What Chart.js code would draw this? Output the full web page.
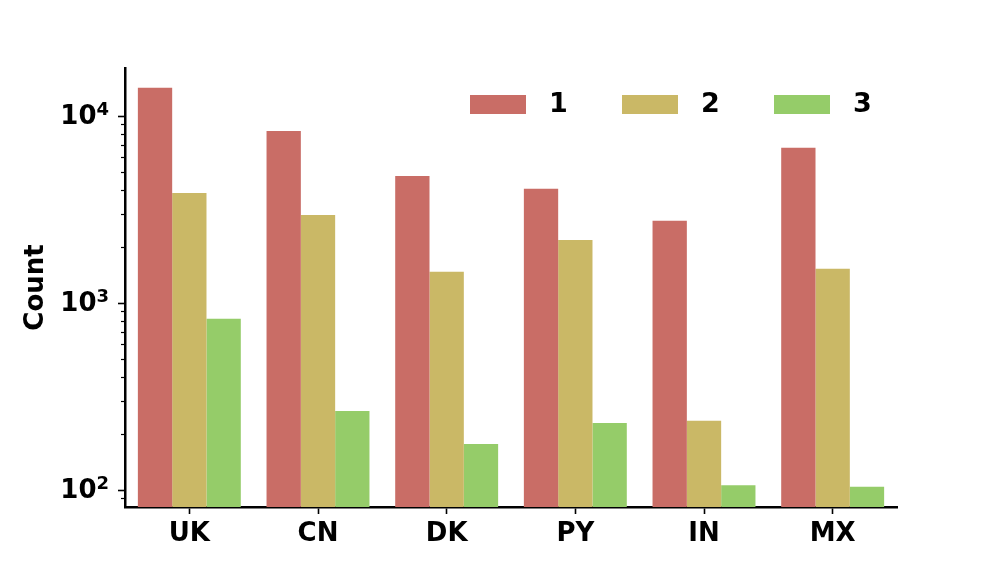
<!DOCTYPE html>
<html>
<head>
<meta charset="utf-8">
<script src="https://cdn.jsdelivr.net/npm/chart.js@4.4.0/dist/chart.umd.min.js"></script>
<style>
  html, body { margin: 0; padding: 0; background: #fff; }
  #wrap { width: 996px; height: 570px; }
</style>
</head>
<body>
<div id="wrap"><canvas id="chart" width="996" height="570"></canvas></div>
<script>
const countries = ['UK', 'CN', 'DK', 'PY', 'IN', 'MX']
const series1 = [14100, 8300, 4770, 4070, 2750, 6740]
const series2 = [3870, 2950, 1465, 2170, 234, 1520]
const series3 = [821, 264, 176, 228, 106, 104]
const seriesNames = ['1', '2', '3']
const yTickExps = [2, 3, 4]
const colors = ['rgb(201, 109, 102)', 'rgb(202, 184, 102)', 'rgb(149, 204, 105)']

const FONT = 'DejaVu Sans'

// legend drawn inside the plot area, top right
const legendPlugin = {
    id: 'innerLegend',
    afterDraw(chart){
        const ctx = chart.ctx
        const area = chart.chartArea
        ctx.save()
        ctx.font = 'bold 27px ' + FONT
        ctx.textBaseline = 'middle'
        chart.data.datasets.forEach((ds, i) => {
            let x = area.left + 345 + i*152
            let y = 95
            ctx.fillStyle = ds.backgroundColor
            ctx.fillRect(x, y, 56, 19)
            ctx.fillStyle = '#000'
            ctx.fillText(ds.label, x + 79, y + 10)
        })
        ctx.restore()
    }
}

// log-axis tick marks and 10^n labels
const yTicksPlugin = {
    id: 'yTickMarks',
    afterDraw(chart){
        const ctx = chart.ctx
        const y = chart.scales.y
        ctx.save()
        ctx.strokeStyle = '#000'
        for(let e = 1; e <= 4; e++){
            for(let k = 1; k <= 9; k++){
                let v = k*Math.pow(10, e)
                if(v < y.min || v > y.max) continue
                let py = Math.round(y.getPixelForValue(v)) + 0.5
                let len = k == 1 ? 7 : 4
                ctx.lineWidth = k == 1 ? 1.6 : 1.2
                ctx.beginPath()
                ctx.moveTo(y.right - len, py)
                ctx.lineTo(y.right, py)
                ctx.stroke()
            }
        }
        ctx.fillStyle = '#000'
        ctx.textBaseline = 'alphabetic'
        ctx.textAlign = 'right'
        yTickExps.forEach(e => {
            let py = y.getPixelForValue(Math.pow(10, e))
            let right = y.right - 16
            ctx.font = 'bold 18px ' + FONT
            let ew = ctx.measureText(String(e)).width
            ctx.fillText(String(e), right, py - 1)
            ctx.font = 'bold 26px ' + FONT
            ctx.fillText('10', right - ew, py + 8)
        })
        ctx.restore()
    }
}

const datasets = [series1, series2, series3].map((d, i) => ({
    label: seriesNames[i],
    data: d,
    backgroundColor: colors[i],
    borderWidth: 0,
    categoryPercentage: 0.8,
    barPercentage: 1.0
}))

const ctx = document.getElementById('chart').getContext('2d')
const myChart = new Chart(ctx, {
    type: 'bar',
    data: {
        labels: countries,
        datasets: datasets
    },
    options: {
        responsive: false,
        animation: false,
        layout: {
            padding: {left: 21, right: 99, top: 68, bottom: 0}
        },
        plugins: {
            legend: {display: false},
            tooltip: {enabled: false}
        },
        scales: {
            x: {
                offset: true,
                border: {display: true, color: '#000', width: 2.5},
                grid: {
                    offset: false,
                    drawOnChartArea: false,
                    drawTicks: true,
                    tickLength: 7,
                    tickColor: '#000',
                    tickWidth: 1.6
                },
                ticks: {
                    color: '#000',
                    font: {family: FONT, size: 26, weight: 'bold'},
                    padding: 5,
                    maxRotation: 0
                },
                afterFit(scale){ scale.height = 63 }
            },
            y: {
                type: 'logarithmic',
                min: 81,
                max: 18000,
                border: {display: true, color: '#000', width: 2.5},
                grid: {display: false},
                title: {
                    display: true,
                    text: 'Count',
                    color: '#000',
                    font: {family: FONT, size: 26, weight: 'bold'},
                    padding: 0
                },
                ticks: {
                    callback: function(){ return '' }
                },
                afterFit(scale){ scale.width = 104 }
            }
        }
    },
    plugins: [legendPlugin, yTicksPlugin]
})
</script>
</body>
</html>
